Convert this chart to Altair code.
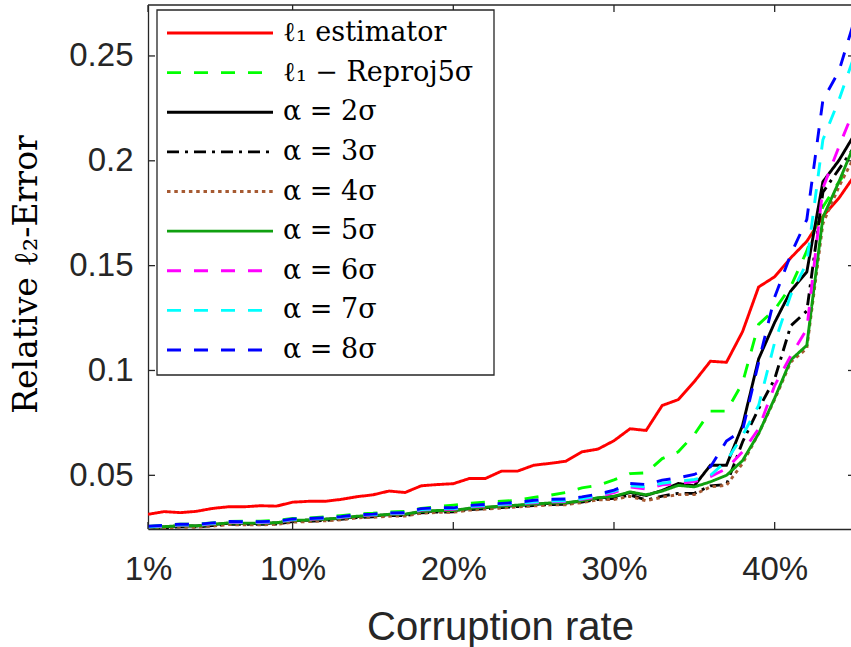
import altair as alt
import pandas as pd

# Corruption rate (%) on the x axis
rate = list(range(1, 46))

# Relative l2-error per method
l1_est = [0.0314, 0.0327, 0.0322, 0.0328, 0.0342, 0.0350, 0.0350, 0.0355, 0.0353, 0.0372,
          0.0376, 0.0376, 0.0385, 0.0398, 0.0407, 0.0425, 0.0418, 0.0450, 0.0456, 0.0460,
          0.0485, 0.0485, 0.0520, 0.0520, 0.0548, 0.0557, 0.0567, 0.0612, 0.0625, 0.0665,
          0.0722, 0.0714, 0.0833, 0.0861, 0.0947, 0.1044, 0.1039, 0.1185, 0.1398, 0.1447,
          0.1537, 0.1616, 0.1735, 0.1822, 0.1933]
l1_reproj = [0.0256, 0.0262, 0.0267, 0.0267, 0.0273, 0.0280, 0.0281, 0.0281, 0.0285, 0.0294,
             0.0297, 0.0302, 0.0308, 0.0315, 0.0319, 0.0325, 0.0328, 0.0342, 0.0350, 0.0358,
             0.0366, 0.0372, 0.0376, 0.0381, 0.0395, 0.0405, 0.0418, 0.0440, 0.0452, 0.0478,
             0.0508, 0.0512, 0.0580, 0.0612, 0.0695, 0.0806, 0.0806, 0.0940, 0.1220, 0.1290,
             0.1400, 0.1570, 0.1780, 0.1900, 0.2000]
alpha2 = [0.0249, 0.0254, 0.0259, 0.0258, 0.0265, 0.0271, 0.0271, 0.0270, 0.0273, 0.0283,
          0.0286, 0.0290, 0.0295, 0.0303, 0.0307, 0.0312, 0.0313, 0.0326, 0.0330, 0.0331,
          0.0341, 0.0346, 0.0351, 0.0356, 0.0361, 0.0366, 0.0367, 0.0377, 0.0391, 0.0398,
          0.0418, 0.0404, 0.0428, 0.0461, 0.0450, 0.0548, 0.0548, 0.0738, 0.1055, 0.1229,
          0.1379, 0.1470, 0.1900, 0.2002, 0.2130]
alpha3 = [0.0246, 0.0250, 0.0255, 0.0254, 0.0260, 0.0267, 0.0266, 0.0266, 0.0268, 0.0279,
          0.0281, 0.0285, 0.0290, 0.0299, 0.0302, 0.0308, 0.0308, 0.0321, 0.0325, 0.0326,
          0.0336, 0.0341, 0.0346, 0.0351, 0.0356, 0.0361, 0.0362, 0.0372, 0.0385, 0.0390,
          0.0406, 0.0382, 0.0401, 0.0414, 0.0414, 0.0450, 0.0456, 0.0659, 0.0817, 0.0960,
          0.1213, 0.1284, 0.1850, 0.1960, 0.2070]
alpha4 = [0.0245, 0.0248, 0.0253, 0.0252, 0.0258, 0.0265, 0.0264, 0.0264, 0.0266, 0.0277,
          0.0279, 0.0283, 0.0288, 0.0297, 0.0300, 0.0305, 0.0306, 0.0319, 0.0323, 0.0324,
          0.0334, 0.0339, 0.0344, 0.0349, 0.0354, 0.0359, 0.0360, 0.0370, 0.0383, 0.0385,
          0.0400, 0.0378, 0.0396, 0.0408, 0.0408, 0.0445, 0.0452, 0.0556, 0.0699, 0.0862,
          0.1040, 0.1105, 0.1700, 0.1877, 0.2026]
alpha5 = [0.0250, 0.0255, 0.0260, 0.0259, 0.0266, 0.0273, 0.0272, 0.0272, 0.0274, 0.0285,
          0.0287, 0.0291, 0.0296, 0.0305, 0.0308, 0.0314, 0.0315, 0.0328, 0.0332, 0.0332,
          0.0343, 0.0348, 0.0353, 0.0358, 0.0363, 0.0368, 0.0369, 0.0379, 0.0393, 0.0400,
          0.0421, 0.0407, 0.0425, 0.0452, 0.0445, 0.0469, 0.0500, 0.0570, 0.0699, 0.0868,
          0.1050, 0.1120, 0.1730, 0.1900, 0.2085]
alpha6 = [0.0253, 0.0258, 0.0263, 0.0262, 0.0269, 0.0276, 0.0275, 0.0275, 0.0277, 0.0288,
          0.0290, 0.0294, 0.0299, 0.0308, 0.0311, 0.0317, 0.0318, 0.0334, 0.0338, 0.0338,
          0.0349, 0.0354, 0.0359, 0.0364, 0.0369, 0.0374, 0.0375, 0.0385, 0.0397, 0.0418,
          0.0445, 0.0435, 0.0455, 0.0462, 0.0470, 0.0494, 0.0532, 0.0612, 0.0722, 0.0928,
          0.1070, 0.1197, 0.1870, 0.2067, 0.2257]
alpha7 = [0.0255, 0.0260, 0.0265, 0.0264, 0.0271, 0.0278, 0.0277, 0.0277, 0.0279, 0.0290,
          0.0292, 0.0296, 0.0301, 0.0310, 0.0313, 0.0319, 0.0320, 0.0337, 0.0341, 0.0341,
          0.0352, 0.0357, 0.0362, 0.0367, 0.0372, 0.0377, 0.0378, 0.0388, 0.0405, 0.0425,
          0.0450, 0.0445, 0.0462, 0.0472, 0.0480, 0.0500, 0.0568, 0.0690, 0.0833, 0.1134,
          0.1360, 0.1514, 0.2100, 0.2290, 0.2510]
alpha8 = [0.0257, 0.0262, 0.0267, 0.0266, 0.0273, 0.0280, 0.0279, 0.0279, 0.0281, 0.0292,
          0.0294, 0.0298, 0.0303, 0.0312, 0.0315, 0.0321, 0.0322, 0.0341, 0.0345, 0.0345,
          0.0356, 0.0361, 0.0366, 0.0371, 0.0381, 0.0386, 0.0387, 0.0397, 0.0410, 0.0429,
          0.0461, 0.0456, 0.0477, 0.0488, 0.0504, 0.0540, 0.0664, 0.0714, 0.1039, 0.1350,
          0.1553, 0.1720, 0.2289, 0.2428, 0.2680]

series_names = ["ℓ₁ estimator", "ℓ₁ − Reproj5σ", "α = 2σ", "α = 3σ", "α = 4σ",
                "α = 5σ", "α = 6σ", "α = 7σ", "α = 8σ"]
series_values = [l1_est, l1_reproj, alpha2, alpha3, alpha4, alpha5, alpha6, alpha7, alpha8]
series_colors = ["#FF0000", "#00FF00", "#000000", "#000000", "#A65A32",
                 "#10A010", "#FF00FF", "#00FFFF", "#0000FF"]
series_dashes = [[1, 0], [14, 13], [1, 0], [12, 6, 3, 6], [3.5, 3.8],
                 [1, 0], [14, 13], [14, 13], [14, 13]]

x_ticks = [1, 10, 20, 30, 40]
y_ticks = [0.05, 0.1, 0.15, 0.2, 0.25]

W, H = 703, 524
AXIS_COLOR = "#262626"
LINE_W = 2.9
SERIF = "DejaVu Serif"

x_scale = alt.Scale(domain=[1, 44.75], nice=False, zero=False)
y_scale = alt.Scale(domain=[0.0244, 0.2743], nice=False, zero=False)

x_axis = alt.Axis(values=x_ticks, labelExpr="datum.value + '%'", ticks=False, tickSize=0,
                  grid=False, domain=True, domainColor=AXIS_COLOR, domainWidth=1.3,
                  labelFont="Liberation Sans", labelFontSize=33, labelColor=AXIS_COLOR,
                  labelBaseline="alphabetic", labelPadding=50, labelFlush=False,
                  labelOverlap=False, labelBound=False,
                  title="Corruption rate", titleFont="Liberation Sans", titleFontSize=40,
                  titleFontWeight="normal", titleColor=AXIS_COLOR,
                  titleBaseline="alphabetic", titleY=110, titleX=352)
y_axis = alt.Axis(values=y_ticks, format="~g", ticks=False, tickSize=0, grid=False,
                  domain=True, domainColor=AXIS_COLOR, domainWidth=1.3,
                  labelFont="Liberation Sans", labelFontSize=33, labelColor=AXIS_COLOR,
                  labelPadding=15, labelOverlap=False, labelBound=False,
                  title="Relative ℓ₂-Error", titleFont=SERIF, titleFontSize=33,
                  titleFontWeight="normal", titleColor="#000000", titleAngle=-90,
                  titleX=-122, titleY=269, titleAlign="center", titleBaseline="middle")

df = pd.DataFrame({
    "rate": rate * len(series_names),
    "err": [v for vals in series_values for v in vals],
    "series": [n for n, vals in zip(series_names, series_values) for _ in vals],
})

layers = []
for i, (name, color, dash) in enumerate(zip(series_names, series_colors, series_dashes)):
    line = alt.Chart(df[df["series"] == name]).mark_line(
        color=color, strokeDash=dash, strokeWidth=LINE_W, clip=True,
        strokeJoin="miter", strokeCap="butt",
    ).encode(
        x=alt.X("rate:Q", scale=x_scale, axis=x_axis),
        y=alt.Y("err:Q", scale=y_scale, axis=y_axis if i == 0 else None),
    )
    layers.append(line)

# Box outline: top edge and inward tick marks on all four sides
one = pd.DataFrame({"k": [0]})
top_edge = alt.Chart(one).mark_rule(color=AXIS_COLOR, strokeWidth=1.3).encode(
    x=alt.value(0), x2=alt.value(W), y=alt.value(0))

yt = pd.DataFrame({"v": y_ticks})
xt = pd.DataFrame({"t": x_ticks})
tick_style = dict(color=AXIS_COLOR, strokeWidth=1.3)
left_ticks = alt.Chart(yt).mark_rule(**tick_style).encode(
    x=alt.value(0), x2=alt.value(7), y=alt.Y("v:Q", scale=y_scale, axis=None))
right_ticks = alt.Chart(yt).mark_rule(**tick_style).encode(
    x=alt.value(700), x2=alt.value(708), y=alt.Y("v:Q", scale=y_scale, axis=None))
bottom_ticks = alt.Chart(xt).mark_rule(**tick_style).encode(
    x=alt.X("t:Q", scale=x_scale, axis=x_axis), y=alt.value(H), y2=alt.value(H - 7))
top_ticks = alt.Chart(xt).mark_rule(**tick_style).encode(
    x=alt.X("t:Q", scale=x_scale, axis=x_axis), y=alt.value(0), y2=alt.value(7))

# Legend drawn in the upper-left corner of the plot
leg_df = pd.DataFrame({"series": series_names, "row": list(range(len(series_names)))})
row_scale = alt.Scale(domain=[0, len(series_names) - 1], range=[28, 345])
leg_box = alt.Chart(one).mark_rect(fill="white", stroke=AXIS_COLOR, strokeWidth=1.3).encode(
    x=alt.value(9), x2=alt.value(346), y=alt.value(5), y2=alt.value(370))
leg_lines = alt.Chart(leg_df).mark_rule(strokeWidth=LINE_W, strokeCap="butt").encode(
    x=alt.value(19), x2=alt.value(125),
    y=alt.Y("row:Q", scale=row_scale, axis=None),
    color=alt.Color("series:N", scale=alt.Scale(domain=series_names, range=series_colors),
                    legend=None),
    strokeDash=alt.StrokeDash("series:N",
                              scale=alt.Scale(domain=series_names, range=series_dashes),
                              legend=None),
)
leg_text = alt.Chart(leg_df).mark_text(
    align="left", baseline="alphabetic", dy=8, font=SERIF, fontSize=27,
    color="#000000",
).encode(
    x=alt.value(135),
    y=alt.Y("row:Q", scale=row_scale, axis=None),
    text="series:N",
)

chart = alt.layer(
    *layers, top_edge, left_ticks, right_ticks, bottom_ticks, top_ticks,
    leg_box, leg_lines, leg_text,
).resolve_scale(
    y="independent", color="independent", strokeDash="independent"
).properties(
    width=W, height=H,
    padding={"left": 148, "top": 5, "right": 0, "bottom": 118},
    autosize=alt.AutoSizeParams(type="none"),
    background="white",
).configure_view(stroke=None)

chart.save("out.html", embed_options={"renderer": "svg", "actions": False})
